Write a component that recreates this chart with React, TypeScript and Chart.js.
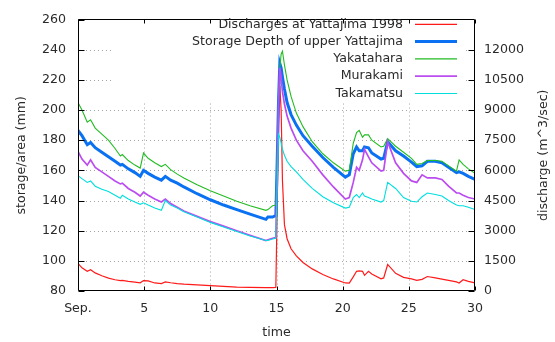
import { useEffect, useRef } from 'react';
import { Chart, registerables } from 'chart.js';

Chart.register(...registerables);

// ---- data (days after 1 Sep) ----
const days = [
  0, 0.3, 0.7, 0.95, 1.3, 1.8, 2.3, 2.8, 3.2, 3.35,
  3.8, 4.3, 4.7, 4.95, 5.3, 5.8, 6.3, 6.6, 7.0, 7.5,
  8, 9, 10, 11, 12, 13, 14.2, 14.35, 14.7, 14.95,
  15.05, 15.15, 15.25, 15.35, 15.45, 15.6, 15.8, 16.1, 16.5, 17.0,
  17.7, 18.5, 19.3, 20.2, 20.5, 20.8, 21.05, 21.25, 21.5, 21.65,
  21.95, 22.2, 22.9, 23.1, 23.4, 24.0, 24.6, 25.2, 25.6, 26.0,
  26.4, 27.0, 27.5, 28.0, 28.6, 28.8, 29.1, 29.5, 30,
];

const discharge = [
  1370, 1150, 980, 1060, 900, 760, 640, 560, 520, 530,
  480, 440, 410, 520, 500, 400, 370, 450, 410, 370,
  340, 300, 270, 230, 190, 180, 170, 170, 170, 180,
  4000, 8500, 10200, 9000, 5500, 3300, 2600, 2100, 1750, 1420,
  1100, 820, 600, 400, 390, 700, 980, 1000, 980, 780,
  980, 850, 610, 650, 1320, 880, 680, 600, 530, 580,
  720, 650, 590, 530, 450, 400, 560, 480, 400,
];

const storageDepth = [
  186.5, 183, 177, 178.5, 175, 172, 169, 166, 163.5, 164,
  161, 158.5, 156, 160, 158, 155.5, 153.5, 156, 153.5, 151.5,
  149, 144.5, 140.5, 137, 134, 131, 127.5, 129, 129, 130,
  165, 205, 231, 228, 222, 214, 205, 197, 190, 183,
  176, 168.5, 162, 155.5, 157, 171, 175.5, 173, 173, 175.5,
  175, 171.5, 167.5, 168, 179, 173, 169.5, 165.5, 162.5, 163,
  166, 166, 165, 162, 158.5, 159, 158, 156, 154,
];

const yakatahara = [
  205, 200, 192, 193.5, 188, 184, 180, 174.5, 169.5, 170.5,
  166.5, 163.5, 161.5, 171.5, 168, 165, 162.5, 164, 160.5, 157.5,
  155, 150.5, 146.5, 143, 139.5, 136.5, 133.5, 134, 136.5, 137,
  170, 205, 228, 237, 239, 230, 220, 209, 198, 189,
  179, 171, 165, 159.5, 160, 178, 185, 186.5, 182, 183.5,
  183.5, 180, 175.5, 176, 181, 176, 172, 168, 164, 164.5,
  166.5, 166.5, 166, 163, 159.5, 167, 164, 161, 158,
];

const murakami = [
  172.5, 167.5, 163.5, 167, 162, 159, 156, 153, 151, 151.5,
  148, 145.5, 143, 145.5, 143.5, 141, 139, 141, 138, 135.5,
  133, 129.5, 126, 123, 120, 117, 113.5, 114, 115, 115.5,
  160, 205, 228, 222, 212, 204, 196, 188, 180, 173,
  166, 157, 149, 141, 142, 152, 162, 160, 167, 174,
  169, 165, 159.5, 160, 179, 165, 158, 153, 152, 157,
  155, 155, 154, 149.5, 145, 145, 143.5, 142, 141,
];

const takamatsu = [
  156.5, 154.5, 152, 153, 149.5, 147.5, 146, 143.5, 141.5, 143.5,
  141, 139, 137.5, 138.5, 137, 135, 133.5, 140, 137, 135,
  132.5, 129, 125.5, 122.5, 119.5, 116.5, 113.5, 113.5, 114.5, 115,
  150, 184, 182, 178, 174, 170, 166, 162.5, 159, 154,
  148, 142.5, 138.5, 135, 135.5, 142, 144, 142, 145, 143,
  142, 141, 139, 140, 152, 148, 142, 139.5, 139, 142.5,
  145, 144, 143, 140, 137, 136.5, 136.5, 135.5, 134,
];

const seriesLabels = [
  'Discharges at Yattajima 1998',
  'Storage Depth of upper Yattajima',
  'Yakatahara',
  'Murakami',
  'Takamatsu',
];

const xTicks = [0, 5, 10, 15, 20, 25, 30];
const xTickLabels = ['Sep.', '5', '10', '15', '20', '25', '30'];
const leftTicks = [80, 100, 120, 140, 160, 180, 200, 220, 240, 260];
const rightTicks = [0, 1500, 3000, 4500, 6000, 7500, 9000, 10500, 12000];

const FONT = '"DejaVu Sans", sans-serif';
const FSIZE = 12.6;
const TEXT = '#2a2a2a';

const decor = {
  id: 'decor',
  beforeDatasetsDraw(chart: any) {
    const { ctx, chartArea: a, scales } = chart;
    ctx.save();
    ctx.strokeStyle = '#a4a4a4';
    ctx.lineWidth = 1;
    ctx.setLineDash([1, 3]);
    ctx.beginPath();
    for (const v of leftTicks) {
      if (v === leftTicks[0] || v === leftTicks[leftTicks.length - 1]) continue;
      const y = Math.round(scales.y.getPixelForValue(v)) + 0.5;
      ctx.moveTo(a.left, y);
      ctx.lineTo(a.right, y);
    }
    for (const v of xTicks) {
      if (v === xTicks[0] || v === xTicks[xTicks.length - 1]) continue;
      const x = Math.round(scales.x.getPixelForValue(v)) + 0.5;
      ctx.moveTo(x, a.top);
      ctx.lineTo(x, a.bottom);
    }
    ctx.stroke();
    ctx.setLineDash([]);
    // key backdrop
    ctx.fillStyle = '#ffffff';
    ctx.fillRect(112, a.top + 1, 463 - 112, 102 - a.top - 1);
    ctx.restore();
  },
  afterDatasetsDraw(chart: any) {
    const { ctx, chartArea: a, scales } = chart;
    ctx.save();
    const L = Math.round(a.left) + 0.5;
    const R = Math.round(a.right) - 0.5;
    const T = Math.round(a.top) - 0.5;
    const B = Math.round(a.bottom) - 0.5;
    ctx.strokeStyle = '#000';
    ctx.lineWidth = 1;
    ctx.beginPath();
    ctx.rect(L, T, R - L, B - T);
    const th = 6;
    const tv = 4;
    for (const v of leftTicks) {
      const y = Math.round(scales.y.getPixelForValue(v)) + 0.5;
      ctx.moveTo(L, y);
      ctx.lineTo(L + th, y);
    }
    for (const v of rightTicks) {
      const y = Math.round(scales.y1.getPixelForValue(v)) + 0.5;
      ctx.moveTo(R, y);
      ctx.lineTo(R - th, y);
    }
    for (const v of xTicks) {
      const x = Math.round(scales.x.getPixelForValue(v)) + 0.5;
      ctx.moveTo(x, B);
      ctx.lineTo(x, B - tv);
      ctx.moveTo(x, T);
      ctx.lineTo(x, T + tv);
    }
    ctx.stroke();

    // key
    ctx.font = `${FSIZE}px ${FONT}`;
    ctx.textAlign = 'right';
    ctx.textBaseline = 'middle';
    chart.data.datasets.forEach((ds: any, i: number) => {
      const y = 24.3 + 17.3 * i;
      ctx.fillStyle = TEXT;
      ctx.fillText(ds.label, 403, y);
      ctx.strokeStyle = ds.borderColor;
      ctx.lineWidth = ds.borderWidth;
      ctx.beginPath();
      ctx.moveTo(415, y);
      ctx.lineTo(457, y);
      ctx.stroke();
    });

    // axis titles
    ctx.fillStyle = TEXT;
    ctx.textAlign = 'center';
    ctx.fillText('time', (a.left + a.right) / 2, 333);
    const cy = (a.top + a.bottom) / 2;
    ctx.save();
    ctx.translate(22, cy);
    ctx.rotate(-Math.PI / 2);
    ctx.fillText('storage/area (mm)', 0, 0);
    ctx.restore();
    ctx.save();
    ctx.translate(544, cy);
    ctx.rotate(-Math.PI / 2);
    ctx.fillText('discharge (m^3/sec)', 0, 0);
    ctx.restore();
    ctx.restore();
  },
};

export default function App() {
  const ref = useRef<HTMLCanvasElement>(null);
  useEffect(() => {
    const canvas = ref.current!;
    const mk = (vals: number[]) => days.map((d, i) => ({ x: d, y: vals[i] }));
    const colors = ['#ff1a1a', '#0a72f2', '#22bb22', '#bb4cf0', '#00dede'];
    const widths = [1.2, 3, 1.1, 1.7, 1.1];
    const series = [discharge, storageDepth, yakatahara, murakami, takamatsu];
    const datasets = series.map((s, i) => ({
      label: seriesLabels[i],
      data: mk(s),
      borderColor: colors[i],
      backgroundColor: colors[i],
      borderWidth: widths[i],
      pointRadius: 0,
      fill: false,
      tension: 0,
      yAxisID: i === 0 ? 'y1' : 'y',
      order: 4 - i,
    }));
    const tickFont = { family: FONT, size: FSIZE };
    const chart = new Chart(canvas, {
      type: 'line',
      data: { datasets },
      plugins: [decor],
      options: {
        animation: false,
        responsive: false,
        devicePixelRatio: 1,
        layout: { padding: { top: 13, left: 0, right: 0, bottom: 0 } },
        plugins: { legend: { display: false }, tooltip: { enabled: false } },
        scales: {
          x: {
            type: 'linear',
            min: 0,
            max: 30,
            afterBuildTicks: (s: any) => {
              s.ticks = xTicks.map((v) => ({ value: v }));
            },
            ticks: {
              font: tickFont,
              color: TEXT,
              padding: 10,
              maxRotation: 0,
              autoSkip: false,
              callback: (v: any) => xTickLabels[xTicks.indexOf(Number(v))] ?? '',
            },
            grid: { display: false, drawTicks: false },
            border: { display: false },
            afterFit: (s: any) => {
              s.height = 51;
            },
          },
          y: {
            position: 'left',
            min: 80,
            max: 260,
            afterBuildTicks: (s: any) => {
              s.ticks = leftTicks.map((v) => ({ value: v }));
            },
            ticks: { font: tickFont, color: TEXT, padding: 12, autoSkip: false, callback: (v: any) => String(v) },
            grid: { display: false, drawTicks: false },
            border: { display: false },
            afterFit: (s: any) => {
              s.width = 78;
            },
          },
          y1: {
            position: 'right',
            min: 0,
            max: 13500,
            afterBuildTicks: (s: any) => {
              s.ticks = rightTicks.map((v) => ({ value: v }));
            },
            ticks: { font: tickFont, color: TEXT, padding: 9, autoSkip: false, callback: (v: any) => String(v) },
            grid: { display: false, drawTicks: false },
            border: { display: false },
            afterFit: (s: any) => {
              s.width = 80;
            },
          },
        },
      } as any,
    });
    return () => chart.destroy();
  }, []);
  return (
    <div style={{ position: 'fixed', left: 0, top: 0, width: 555, height: 342, background: '#fff' }}>
      <canvas ref={ref} width={555} height={342} style={{ display: 'block' }} />
    </div>
  );
}
